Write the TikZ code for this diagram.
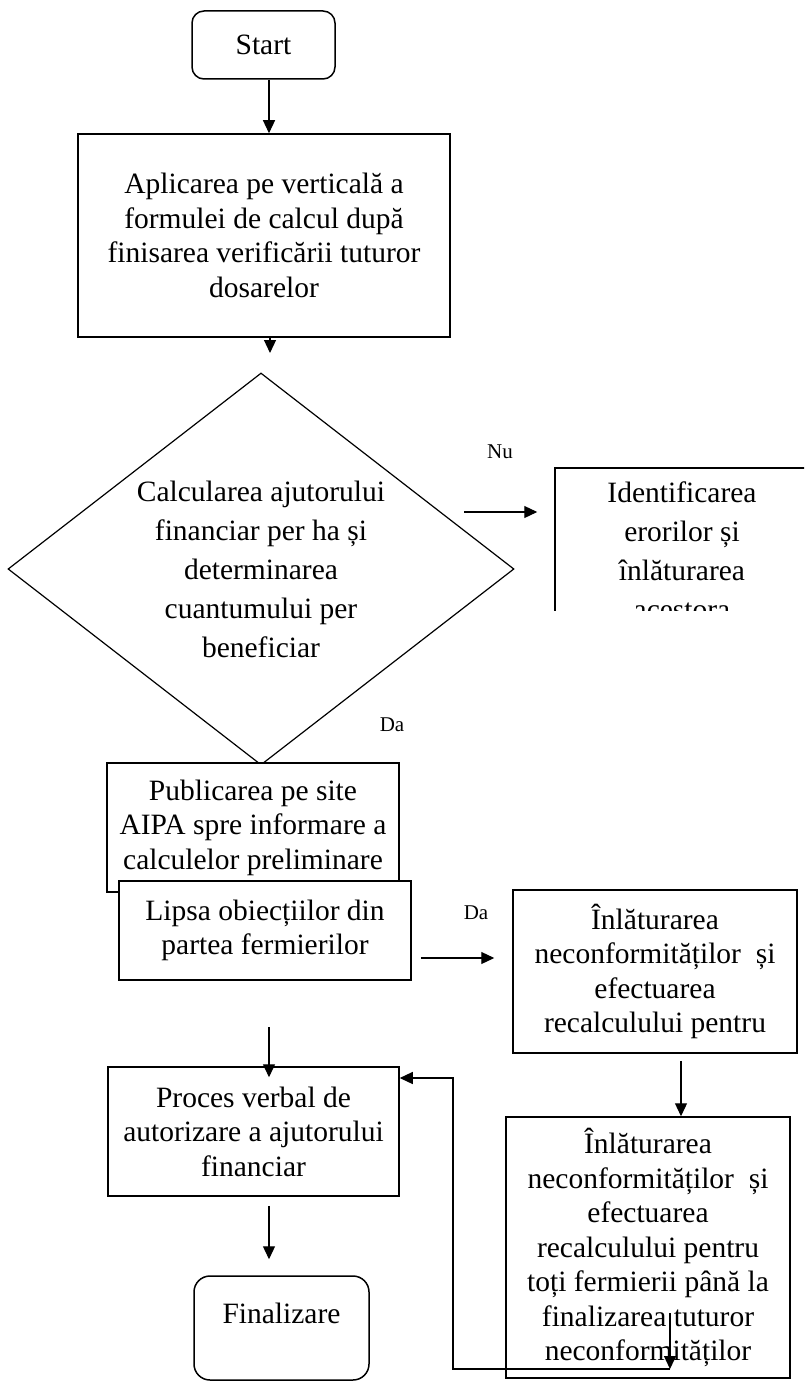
\documentclass[tikz,border=0pt]{standalone}
\usepackage{fontspec}
\setmainfont{Liberation Serif}
\usetikzlibrary{shapes.geometric,arrows.meta}
\begin{document}
\begin{tikzpicture}[x=1pt,y=-1pt,
  every node/.style={font=\fontsize{29.5}{34.5}\selectfont, align=center, inner sep=0pt},
  box/.style={draw, line width=1.5pt, rectangle, fill=white},
  term/.style={draw, line width=1.5pt, rounded corners=12pt},
  wide/.style={font=\fontsize{29.5}{39}\selectfont},
  lbl/.style={font=\fontsize{21}{24}\selectfont},
  arr/.style={line width=1.2pt, -{Triangle[length=13pt,width=12pt]}},
  ln/.style={line width=1.2pt}
]
\useasboundingbox (0,0) rectangle (804,1383);

% nodes
\node[term, minimum width=143pt, minimum height=68pt] (start) at (263.5,45) {Start};
\node[box, minimum width=372pt, minimum height=203pt] (apl) at (264,235.5)
  {Aplicarea pe verticală a\\formulei de calcul după\\finisarea verificării tuturor\\dosarelor};
\node[draw, diamond, line width=1.2pt, aspect=1.29, minimum width=506pt, minimum height=392pt, wide] (calc) at (261,569)
  {Calcularea ajutorului\\financiar per ha și\\determinarea\\cuantumului per\\beneficiar};
\begin{scope}
  \clip (540,440) rectangle (804,610);
  \node[box, minimum width=254pt, minimum height=165pt, wide] (ident) at (682,550.5)
    {Identificarea\\erorilor și\\înlăturarea\\acestora};
\end{scope}
\node[box, minimum width=292pt, minimum height=129pt] (pub) at (253,827.5)
  {Publicarea pe site\\AIPA spre informare a\\calculelor preliminare};
\node[box, minimum width=292pt, minimum height=99pt] (lipsa) at (265,930.5)
  {Lipsa obiecțiilor din\\partea fermierilor};
\node[box, minimum width=284pt, minimum height=163pt] (inl1) at (655,971.5)
  {Înlăturarea\\neconformităților~ și\\efectuarea\\recalculului pentru};
\node[box, minimum width=291pt, minimum height=129pt] (proc) at (253.5,1131.5)
  {Proces verbal de\\autorizare a ajutorului\\financiar};
\node[term, rounded corners=16pt, minimum width=175pt, minimum height=104pt] (fin) at (281.5,1328)
  {\raisebox{15pt}[\height][\depth]{Finalizare}};
\node[box, minimum width=284pt, minimum height=261pt] (inl2) at (648,1247.5)
  {Înlăturarea\\neconformităților~ și\\efectuarea\\recalculului pentru\\toți fermierii până la\\finalizarea tuturor\\neconformităților};

% labels
\node[lbl] (nu) at (500,452) {Nu};
\node[lbl] (da1) at (392,725) {Da};
\node[lbl] (da2) at (476,913) {Da};

% coordinates
\coordinate (ax) at (269,0);
\coordinate (bx) at (681,0);
\coordinate (a2) at (270,353);
\coordinate (nu1) at (464,512);
\coordinate (cy) at (0,958);
\coordinate (p1) at (269,1027);
\coordinate (l1) at (670,1313);
\coordinate (l2) at (670,1369);
\coordinate (l3) at (453,1078);

% connectors
\draw[arr] (start.south -| ax) -- (apl.north -| ax);
\draw[arr] (apl.south -| a2) -- (a2);
\draw[arr, shorten >=17pt] (nu1) -- (ident.west |- nu1);
\draw[arr, shorten <=9pt, shorten >=18pt] (lipsa.east |- cy) -- (inl1.west |- cy);
\draw[arr, shorten >=-11pt] (p1) -- (proc.north -| p1);
\draw[arr, shorten <=9pt, shorten >=16pt] (proc.south -| ax) -- (fin.north -| ax);
\draw[arr, shorten <=7pt] (inl1.south -| bx) -- (inl2.north -| bx);
\draw[arr] (l1) -- (l2);
\draw[arr] (l2) -| (l3) -- (proc.east |- l3);
\end{tikzpicture}
\end{document}
